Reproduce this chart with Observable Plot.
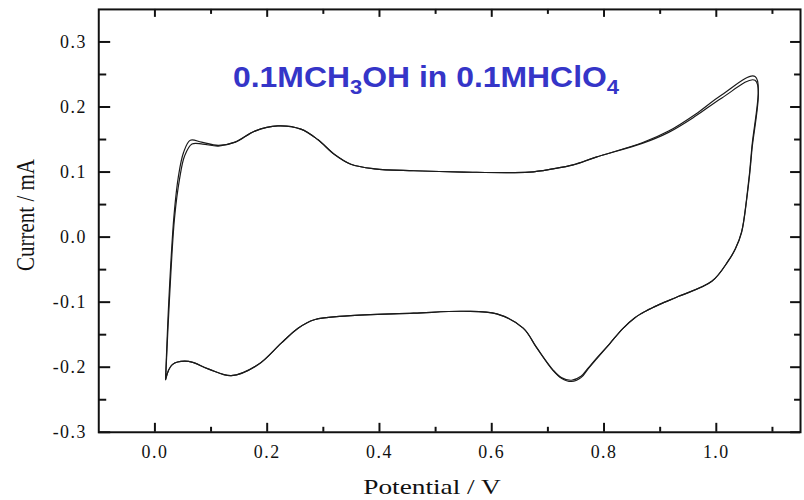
<!DOCTYPE html>
<html>
<head>
<meta charset="utf-8">
<script src="https://cdn.jsdelivr.net/npm/d3@7"></script>
<script src="https://cdn.jsdelivr.net/npm/@observablehq/plot@0.6"></script>
<style>
  html, body { margin: 0; padding: 0; background: #fff; }
  #wrap { position: relative; width: 804px; height: 500px; overflow: hidden; }
  #title { position: absolute; left: 233px; top: 63px; font-family: "Liberation Sans", Arial, sans-serif; font-weight: bold; font-size: 29px; line-height: 1; color: #3535c8; white-space: nowrap; transform: scaleX(1.1); transform-origin: 0 0; }
  #title sub { font-size: 20px; vertical-align: -7px; line-height: 0; }
  .axlab { position: absolute; font-family: "Liberation Serif", "Times New Roman", serif; font-size: 21px; color: #111; white-space: nowrap; }
  #ylab { left: 26px; top: 215px; transform: translate(-50%, -50%) rotate(-90deg) scaleY(1.2); }
  #xlab { left: 432px; top: 487px; transform: translate(-50%, -50%) scaleX(1.3); }
  #chart svg text { letter-spacing: 1.5px; }
</style>
</head>
<body>
<div id="wrap">
  <div id="chart"></div>
  <div id="title">0.1MCH<sub>3</sub>OH in 0.1MHClO<sub>4</sub></div>
  <div class="axlab" id="ylab">Current / mA</div>
  <div class="axlab" id="xlab">Potential / V</div>
</div>
<script>
// Cycle 1: anodic sweep then cathodic sweep (potential V, current mA)
const potential1 = [0.019, 0.025, 0.034, 0.042, 0.051, 0.063, 0.083, 0.113, 0.143, 0.178, 0.219, 0.260, 0.290, 0.320, 0.349, 0.391, 0.461, 0.550, 0.667, 0.709, 0.745, 0.786, 0.868, 0.915, 0.963, 1.010, 1.069,
  1.063, 1.054, 1.045, 1.034, 1.021, 0.992, 0.933, 0.900, 0.874, 0.855, 0.833, 0.810, 0.788, 0.772, 0.759, 0.742, 0.724, 0.709, 0.680, 0.656, 0.609, 0.550, 0.461, 0.343, 0.284, 0.255, 0.225, 0.184, 0.136, 0.096, 0.060, 0.031, 0.019];
const current1 = [-0.219, -0.094, 0.033, 0.094, 0.130, 0.149, 0.146, 0.141, 0.146, 0.163, 0.171, 0.166, 0.150, 0.127, 0.112, 0.105, 0.102, 0.100, 0.100, 0.105, 0.111, 0.123, 0.145, 0.163, 0.189, 0.219, 0.247,
  0.135, 0.059, 0.008, -0.018, -0.037, -0.068, -0.091, -0.103, -0.114, -0.124, -0.141, -0.164, -0.186, -0.202, -0.216, -0.222, -0.217, -0.205, -0.170, -0.140, -0.118, -0.114, -0.117, -0.121, -0.127, -0.140, -0.163, -0.196, -0.213, -0.203, -0.191, -0.196, -0.219];
// Cycle 2
const potential2 = [0.019, 0.026, 0.035, 0.044, 0.053, 0.066, 0.085, 0.113, 0.143, 0.178, 0.219, 0.260, 0.290, 0.320, 0.349, 0.391, 0.461, 0.550, 0.667, 0.709, 0.745, 0.786, 0.868, 0.915, 0.963, 1.010, 1.069,
  1.063, 1.054, 1.045, 1.034, 1.021, 0.992, 0.933, 0.900, 0.874, 0.855, 0.833, 0.810, 0.788, 0.772, 0.759, 0.742, 0.724, 0.709, 0.680, 0.656, 0.609, 0.550, 0.461, 0.343, 0.284, 0.255, 0.225, 0.184, 0.136, 0.096, 0.060, 0.031, 0.019];
const current2 = [-0.219, -0.094, 0.030, 0.090, 0.125, 0.143, 0.143, 0.140, 0.146, 0.163, 0.171, 0.166, 0.150, 0.127, 0.112, 0.105, 0.102, 0.100, 0.100, 0.105, 0.111, 0.123, 0.144, 0.161, 0.186, 0.214, 0.241,
  0.130, 0.057, 0.007, -0.018, -0.037, -0.068, -0.091, -0.103, -0.114, -0.124, -0.141, -0.164, -0.185, -0.201, -0.214, -0.220, -0.216, -0.204, -0.170, -0.140, -0.118, -0.114, -0.117, -0.121, -0.127, -0.140, -0.163, -0.196, -0.213, -0.203, -0.191, -0.196, -0.219];

const xMajorTicks = [0.0, 0.2, 0.4, 0.6, 0.8, 1.0];
const xMinorTicks = [0.1, 0.3, 0.5, 0.7, 0.9, 1.1];
const yMajorTicks = [-0.3, -0.2, -0.1, 0.0, 0.1, 0.2, 0.3];
const yMinorTicks = [-0.25, -0.15, -0.05, 0.05, 0.15, 0.25];

const rows = [
  ...potential1.map((E, i) => ({cycle: 1, E, I: current1[i]})),
  ...potential2.map((E, i) => ({cycle: 2, E, I: current2[i]}))
];

const W = 810, H = 500, mL = 99, mR = 4, mT = 9, mB = 65;
const innerW = W - mL - mR, innerH = H - mT - mB;
const fmt = d => d.toFixed(1);

const chart = Plot.plot({
  width: W, height: H,
  marginLeft: mL, marginRight: mR, marginTop: mT, marginBottom: mB,
  style: {fontFamily: "'Liberation Serif', 'Times New Roman', serif", fontSize: "18px", color: "#111", background: "#fff"},
  x: {domain: [-0.1, 1.15]},
  y: {domain: [-0.3, 0.35]},
  marks: [
    Plot.axisX(xMajorTicks, {anchor: "bottom", tickSize: 0, tickPadding: 13, tickFormat: fmt, label: null, fontSize: 18}),
    Plot.axisY(yMajorTicks, {anchor: "left", tickSize: 0, tickPadding: 12, tickFormat: fmt, label: null, fontSize: 18}),
    // inward ticks: bottom & top
    Plot.tickX(xMajorTicks, {x: d => d, insetTop: innerH - 9, strokeWidth: 2}),
    Plot.tickX(xMinorTicks, {x: d => d, insetTop: innerH - 5, strokeWidth: 2}),
    Plot.tickX(xMajorTicks, {x: d => d, insetBottom: innerH - 8, strokeWidth: 2}),
    Plot.tickX(xMinorTicks, {x: d => d, insetBottom: innerH - 5, strokeWidth: 2}),
    // inward ticks: left & right
    Plot.tickY(yMajorTicks, {y: d => d, insetRight: innerW - 12, strokeWidth: 2}),
    Plot.tickY(yMinorTicks, {y: d => d, insetRight: innerW - 8, strokeWidth: 2}),
    Plot.tickY(yMajorTicks, {y: d => d, insetLeft: innerW - 10, strokeWidth: 2}),
    Plot.tickY(yMinorTicks, {y: d => d, insetLeft: innerW - 6, strokeWidth: 2}),
    Plot.frame({strokeWidth: 2}),
    Plot.line(rows, {x: "E", y: "I", z: "cycle", curve: "catmull-rom", stroke: "#1a1a1a", strokeWidth: 1.2})
  ]
});
document.getElementById("chart").appendChild(chart);
</script>
</body>
</html>
